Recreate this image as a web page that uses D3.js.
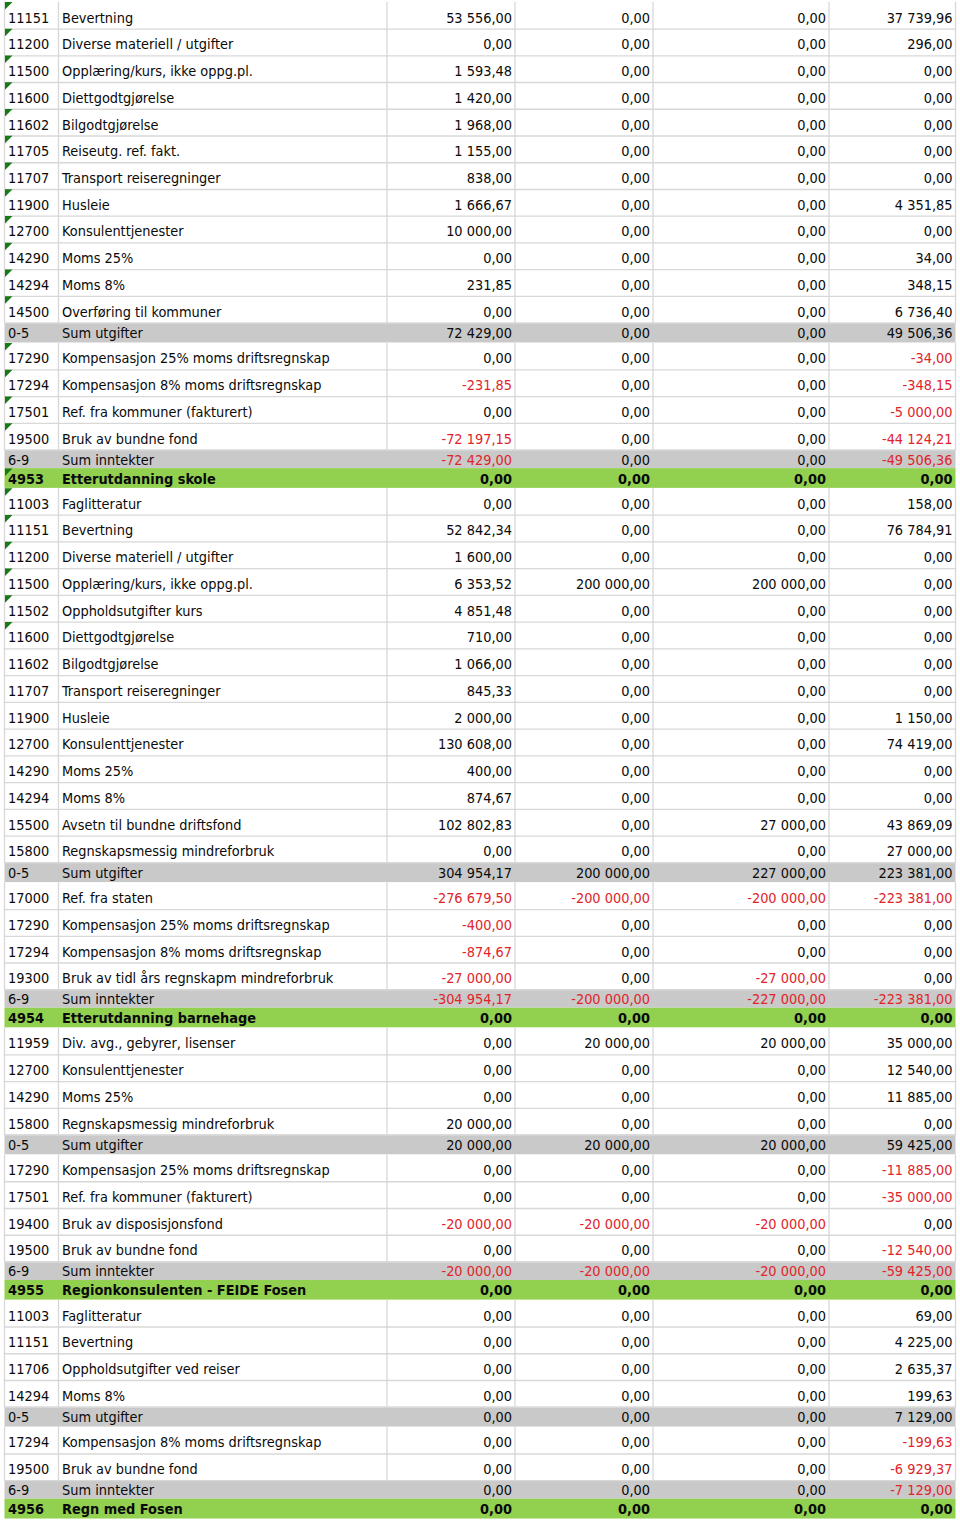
<!DOCTYPE html>
<html><head><meta charset="utf-8">
<script src="https://cdn.jsdelivr.net/npm/d3@7"></script>
<style>html,body{margin:0;padding:0;background:#fff;}svg{display:block;}</style>
</head><body>
<script>
// ---- DATA ----
const codes = ["11151","11200","11500","11600","11602","11705","11707","11900","12700","14290","14294","14500","0-5","17290","17294","17501","19500","6-9","4953",
"11003","11151","11200","11500","11502","11600","11602","11707","11900","12700","14290","14294","15500","15800","0-5","17000","17290","17294","19300","6-9","4954",
"11959","12700","14290","15800","0-5","17290","17501","19400","19500","6-9","4955",
"11003","11151","11706","14294","0-5","17294","19500","6-9","4956"];
const names = ["Bevertning","Diverse materiell / utgifter","Opplæring/kurs, ikke oppg.pl.","Diettgodtgjørelse","Bilgodtgjørelse","Reiseutg. ref. fakt.","Transport reiseregninger","Husleie","Konsulenttjenester","Moms 25%","Moms 8%","Overføring til kommuner","Sum utgifter","Kompensasjon 25% moms driftsregnskap","Kompensasjon 8% moms driftsregnskap","Ref. fra kommuner (fakturert)","Bruk av bundne fond","Sum inntekter","Etterutdanning skole",
"Faglitteratur","Bevertning","Diverse materiell / utgifter","Opplæring/kurs, ikke oppg.pl.","Oppholdsutgifter kurs","Diettgodtgjørelse","Bilgodtgjørelse","Transport reiseregninger","Husleie","Konsulenttjenester","Moms 25%","Moms 8%","Avsetn til bundne driftsfond","Regnskapsmessig mindreforbruk","Sum utgifter","Ref. fra staten","Kompensasjon 25% moms driftsregnskap","Kompensasjon 8% moms driftsregnskap","Bruk av tidl års regnskapm mindreforbruk","Sum inntekter","Etterutdanning barnehage",
"Div. avg., gebyrer, lisenser","Konsulenttjenester","Moms 25%","Regnskapsmessig mindreforbruk","Sum utgifter","Kompensasjon 25% moms driftsregnskap","Ref. fra kommuner (fakturert)","Bruk av disposisjonsfond","Bruk av bundne fond","Sum inntekter","Regionkonsulenten - FEIDE Fosen",
"Faglitteratur","Bevertning","Oppholdsutgifter ved reiser","Moms 8%","Sum utgifter","Kompensasjon 8% moms driftsregnskap","Bruk av bundne fond","Sum inntekter","Regn med Fosen"];
// row kind: n = account line, s = sum utgifter, t = sum inntekter, g = section header
const kinds = ["n","n","n","n","n","n","n","n","n","n","n","n","s","n","n","n","n","t","g",
"n","n","n","n","n","n","n","n","n","n","n","n","n","n","s","n","n","n","n","t","g",
"n","n","n","n","s","n","n","n","n","t","g",
"n","n","n","n","s","n","n","t","g"];
// cell flagged with the "number stored as text" marker
const flagged = [1,1,1,1,1,1,1,1,1,1,1,1,0,1,1,1,1,0,1,
1,1,1,1,1,1,0,0,0,0,0,0,0,0,0,0,0,0,0,0,0,
0,0,0,0,0,0,0,0,0,0,0,
0,0,0,0,0,0,0,0,0];
const valuesA = [53556,0,1593.48,1420,1968,1155,838,1666.67,10000,0,231.85,0,72429,0,-231.85,0,-72197.15,-72429,0,
0,52842.34,1600,6353.52,4851.48,710,1066,845.33,2000,130608,400,874.67,102802.83,0,304954.17,-276679.5,-400,-874.67,-27000,-304954.17,0,
0,0,0,20000,20000,0,0,-20000,0,-20000,0,
0,0,0,0,0,0,0,0,0];
const valuesB = [0,0,0,0,0,0,0,0,0,0,0,0,0,0,0,0,0,0,0,
0,0,0,200000,0,0,0,0,0,0,0,0,0,0,200000,-200000,0,0,0,-200000,0,
20000,0,0,0,20000,0,0,-20000,0,-20000,0,
0,0,0,0,0,0,0,0,0];
const valuesC = [0,0,0,0,0,0,0,0,0,0,0,0,0,0,0,0,0,0,0,
0,0,0,200000,0,0,0,0,0,0,0,0,27000,0,227000,-200000,0,0,-27000,-227000,0,
20000,0,0,0,20000,0,0,-20000,0,-20000,0,
0,0,0,0,0,0,0,0,0];
const valuesD = [37739.96,296,0,0,0,0,0,4351.85,0,34,348.15,6736.4,49506.36,-34,-348.15,-5000,-44124.21,-49506.36,0,
158,76784.91,0,0,0,0,0,0,1150,74419,0,0,43869.09,27000,223381,-223381,0,0,0,-223381,0,
35000,12540,11885,0,59425,-11885,-35000,0,-12540,-59425,0,
69,4225,2635.37,199.63,7129,-199.63,-6929.37,-7129,0];

// ---- LAYOUT / STYLE ----
const W = 960, H = 1524;
const rowH = {n: 26.74, s: 20, t: 18.5, g: 19.8};
const pad = {n: 6, s: 4.3, t: 3.6, g: 4.3};
const fill = {n: "#ffffff", s: "#c9c9c9", t: "#c9c9c9", g: "#92d050"};
const top0 = 1.8;
const edges = [4.5, 58.5, 387, 515, 653, 829, 955.5];
const gridColor = "#d8d8d8";
const red = "#e0242a";

const rows = codes.map((c, i) => ({code: c, name: names[i], kind: kinds[i], flag: flagged[i],
  vals: [valuesA[i], valuesB[i], valuesC[i], valuesD[i]]}));
let acc = top0;
rows.forEach(r => { r.y0 = acc; acc += rowH[r.kind]; r.y1 = acc; });

const loc = d3.formatLocale({decimal: ",", thousands: "\u00a0", grouping: [3], currency: ["", ""], minus: "-"});
const fmt = loc.format(",.2f");

const svg = d3.select("body").append("svg").attr("width", W).attr("height", H)
  .style("font-family", "'DejaVu Sans Condensed','DejaVu Sans',sans-serif").style("font-size", "14.4px");

const g = svg.selectAll("g.row").data(rows).join("g").attr("class", "row");
g.append("rect").attr("x", edges[0]).attr("y", d => d.y0).attr("width", edges[6] - edges[0]).attr("height", d => d.y1 - d.y0)
  .attr("fill", d => fill[d.kind]);

// grid lines for ordinary rows
const normal = rows.filter(r => r.kind === "n");
svg.selectAll("line.h").data(normal).join("line").attr("class", "h")
  .attr("x1", edges[0]).attr("x2", edges[6]).attr("y1", d => d.y1 + 0.5).attr("y2", d => d.y1 + 0.5)
  .attr("stroke", gridColor).attr("stroke-width", 1.3);
normal.forEach(r => {
  edges.forEach(e => {
    svg.append("line").attr("x1", e).attr("x2", e).attr("y1", r.y0).attr("y2", r.y1 + 1)
      .attr("stroke", gridColor).attr("stroke-width", 1.3);
  });
});

// flags
svg.selectAll("path.flag").data(rows.filter(r => r.flag)).join("path").attr("class", "flag")
  .attr("d", d => `M${edges[0] + 0.5},${d.y0 + 0.3} L${edges[0] + 8},${d.y0 + 0.3} L${edges[0] + 0.5},${d.y0 + 7.8} Z`)
  .attr("fill", "#177a17");

g.append("text").attr("x", edges[0] + 3.5).attr("y", d => d.y1 - pad[d.kind]).text(d => d.code)
  .attr("font-weight", d => d.kind === "g" ? "bold" : null).attr("fill", "#0a0a0a");
g.append("text").attr("x", edges[1] + 3.5).attr("y", d => d.y1 - pad[d.kind]).text(d => d.name)
  .attr("font-weight", d => d.kind === "g" ? "bold" : null).attr("fill", "#0a0a0a");
[0, 1, 2, 3].forEach(k => {
  g.append("text").attr("x", edges[k + 3] - 3).attr("y", d => d.y1 - pad[d.kind]).attr("text-anchor", "end")
    .text(d => fmt(d.vals[k]))
    .attr("font-weight", d => d.kind === "g" ? "bold" : null)
    .attr("fill", d => d.vals[k] < 0 ? red : "#0a0a0a");
});
</script>
</body></html>
